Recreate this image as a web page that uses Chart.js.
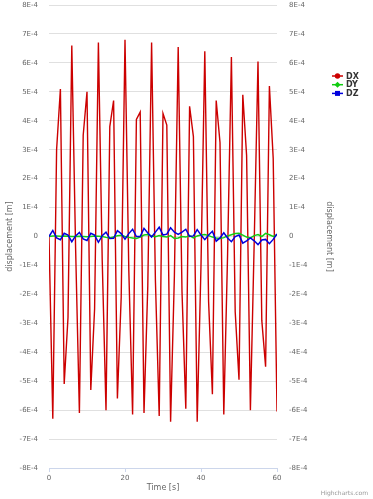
<!DOCTYPE html>
<html lang="en">
<head>
<meta charset="UTF-8">
<title>Displacement</title>
<script src="https://cdn.jsdelivr.net/npm/chart.js"></script>
<style>
    body { margin: 0; padding: 0; background: #fff; }
    canvas { display: block; }
</style>
</head>
<body>
<canvas id="dispChart" width="373" height="499"></canvas>
<script>
    // time in s, displacement values in units of 1E-4 m
    const time = Array.from({length: 61}, (_, i) => i);
    const dx = [0, -6.3, 3.0, 5.1, -5.1, -2.8, 6.6, -0.4, -6.1, 3.5,
                5.0, -5.3, -2.5, 6.7, -0.8, -6.0, 3.8, 4.7, -5.6, -2.1,
                6.8, -1.15, -6.15, 4.05, 4.3, -6.1, -1.7, 6.7, -1.5, -6.2,
                4.25, 3.85, -6.4, -1.35, 6.55, -1.9, -5.95, 4.5, 3.45, -6.4,
                -1.0, 6.4, -2.25, -5.45, 4.7, 3.25, -6.15, -0.6, 6.2, -2.6,
                -4.95, 4.9, 2.8, -6.0, -0.2, 6.05, -2.9, -4.5, 5.2, 2.7, -6.05];
    const dy = [0, 0.02, 0.02, 0.01, 0.02, 0.01, 0, 0, 0.01, 0,
                -0.01, 0, 0.02, 0.01, 0, -0.03, -0.05, -0.02, 0.03, 0.04,
                0, -0.03, -0.05, -0.07, -0.02, 0.05, 0.07, 0.02, -0.01, 0.03,
                0, -0.02, 0.03, -0.07, -0.05, 0, -0.02, 0.03, -0.05, 0.02,
                0.05, 0.07, 0.03, -0.02, -0.05, -0.07, -0.04, 0.02, 0.06, 0.1,
                0.11, 0.05, -0.02, -0.05, 0.03, 0.07, 0, 0.11, 0.06, 0, 0.06];
    const dz = [0, 0.21, -0.05, -0.11, 0.11, 0.05, -0.18, 0.02, 0.14, -0.08,
                -0.14, 0.11, 0.05, -0.2, 0.03, 0.15, -0.07, -0.06, 0.2, 0.1,
                -0.09, 0.1, 0.25, 0, 0, 0.28, 0.12, -0.02, 0.15, 0.32,
                0.05, 0.08, 0.3, 0.15, 0.07, 0.15, 0.25, 0, 0.02, 0.24,
                0.05, -0.11, 0.05, 0.18, -0.16, -0.05, 0.13, -0.05, -0.18, 0,
                0.05, -0.23, -0.15, -0.05, -0.15, -0.28, -0.12, -0.1, -0.25, -0.1, 0.09];
    const yTickLabels = ['-8E-4', '-7E-4', '-6E-4', '-5E-4', '-4E-4', '-3E-4', '-2E-4', '-1E-4', '0',
                         '1E-4', '2E-4', '3E-4', '4E-4', '5E-4', '6E-4', '7E-4', '8E-4'];
    const seriesNames = ['DX', 'DY', 'DZ'];
    const seriesColors = ['#cc0000', '#11cc11', '#0000dd'];
    const markerShapes = ['circle', 'diamond', 'square'];

    const FONT = "'DejaVu Sans', Verdana, sans-serif";
    const toPoints = (vals) => time.map((t, i) => ({x: t, y: vals[i]}));
    const yLabel = (v) => yTickLabels[Math.round(v) + 8];

    // legend (line + marker) and credits
    const extrasPlugin = {
        id: 'extras',
        afterDraw(chart) {
            const c = chart.ctx;
            c.save();
            const x0 = chart.width - 41;
            seriesNames.forEach((name, i) => {
                const y = 76 + i * 8.7;
                c.strokeStyle = seriesColors[i];
                c.fillStyle = seriesColors[i];
                c.lineWidth = 1.5;
                c.beginPath();
                c.moveTo(x0, y);
                c.lineTo(x0 + 11, y);
                c.stroke();
                const mx = x0 + 5.5;
                c.beginPath();
                if (markerShapes[i] === 'circle') {
                    c.arc(mx, y, 2.7, 0, Math.PI * 2);
                } else if (markerShapes[i] === 'diamond') {
                    c.moveTo(mx, y - 3); c.lineTo(mx + 3, y); c.lineTo(mx, y + 3); c.lineTo(mx - 3, y);
                    c.closePath();
                } else {
                    c.rect(mx - 2.5, y - 2.5, 5, 5);
                }
                c.fill();
                c.fillStyle = '#333';
                c.font = 'bold 8px ' + FONT;
                c.textBaseline = 'middle';
                c.textAlign = 'left';
                c.fillText(name, x0 + 14, y + 0.5);
            });
            c.fillStyle = '#999';
            c.font = '6px ' + FONT;
            c.textAlign = 'right';
            c.textBaseline = 'middle';
            c.fillText('Highcharts.com', chart.width - 5, 493);
            c.restore();
        }
    };

    // fixed scale sizes so the plot area lands where the reference has it
    const fitY = (w) => (s) => { s.width = w; s.paddingTop = 4; s.paddingBottom = 4; };

    new Chart(document.getElementById('dispChart'), {
        type: 'line',
        data: {
            datasets: [
                {label: seriesNames[0], data: toPoints(dx), borderColor: seriesColors[0], borderWidth: 1.4, order: 3},
                {label: seriesNames[1], data: toPoints(dy), borderColor: seriesColors[1], borderWidth: 1.5, order: 2},
                {label: seriesNames[2], data: toPoints(dz), borderColor: seriesColors[2], borderWidth: 1.5, order: 1}
            ]
        },
        options: {
            responsive: false,
            animation: false,
            maintainAspectRatio: false,
            elements: { point: { radius: 0 }, line: { tension: 0 } },
            layout: { padding: { top: 5, right: 39, bottom: 6, left: 0 } },
            plugins: { legend: { display: false }, tooltip: { enabled: false } },
            scales: {
                x: {
                    type: 'linear',
                    min: 0, max: 60,
                    ticks: { stepSize: 20, color: '#666', font: { family: FONT, size: 7 }, padding: 2, maxRotation: 0 },
                    grid: { drawOnChartArea: false, color: '#ccd6eb', tickLength: 4 },
                    border: { display: true, color: '#ccd6eb' },
                    title: { display: true, text: 'Time [s]', color: '#666', font: { family: FONT, size: 8 }, padding: 0 },
                    afterFit: (s) => { s.height = 25; }
                },
                y: {
                    position: 'left',
                    min: -8, max: 8,
                    ticks: { stepSize: 1, autoSkip: false, color: '#666', font: { family: FONT, size: 7 }, padding: 11, callback: yLabel },
                    grid: { color: '#e0e0e0', drawTicks: false },
                    border: { display: false },
                    title: { display: true, text: 'displacement [m]', color: '#666', font: { family: FONT, size: 8 }, padding: { top: 5, bottom: 0 } },
                    afterFit: fitY(49)
                },
                y2: {
                    position: 'right',
                    min: -8, max: 8,
                    ticks: { stepSize: 1, autoSkip: false, color: '#666', font: { family: FONT, size: 7 }, padding: 12, callback: yLabel },
                    grid: { drawOnChartArea: false, drawTicks: false },
                    border: { display: false },
                    title: { display: true, text: 'displacement [m]', color: '#666', font: { family: FONT, size: 8 }, padding: { top: 0, bottom: 0 } },
                    afterFit: fitY(57)
                }
            }
        },
        plugins: [extrasPlugin]
    });
</script>
</body>
</html>
